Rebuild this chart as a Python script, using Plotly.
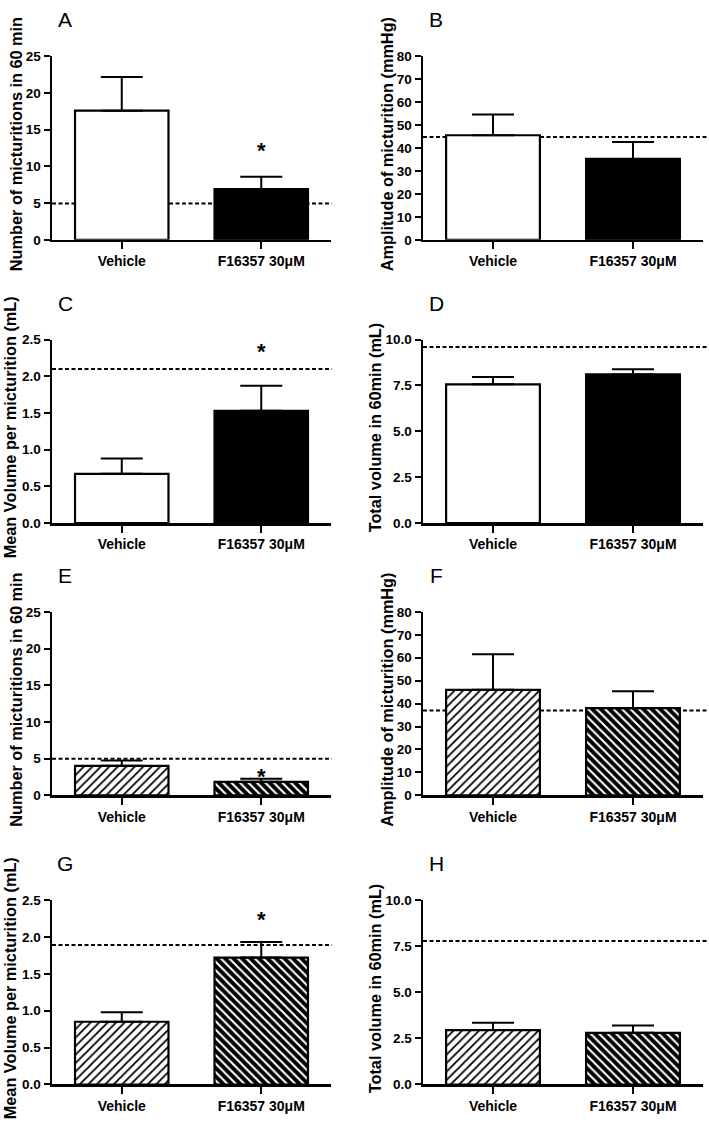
import plotly.graph_objects as go

# ---------------- data ----------------
panel_letters = ["A", "B", "C", "D", "E", "F", "G", "H"]
categories = ["Vehicle", "F16357 30μM"]
y_titles = [
    "Number of micturitions in 60 min",
    "Amplitude of micturition (mmHg)",
    "Mean Volume per micturition (mL)",
    "Total volume in 60min (mL)",
    "Number of micturitions in 60 min",
    "Amplitude of micturition (mmHg)",
    "Mean Volume per micturition (mL)",
    "Total volume in 60min (mL)",
]
vehicle_mean = [17.6, 45.6, 0.67, 7.56, 4.03, 46.0, 0.85, 2.95]
vehicle_sem = [4.6, 9.0, 0.21, 0.40, 0.72, 15.5, 0.13, 0.40]
f16357_mean = [6.9, 35.3, 1.53, 8.10, 1.85, 38.0, 1.72, 2.80]
f16357_sem = [1.7, 7.4, 0.34, 0.28, 0.40, 7.4, 0.21, 0.40]
baseline = [4.95, 44.8, 2.10, 9.59, 5.0, 37.0, 1.89, 7.78]
significant = [True, False, True, False, True, False, True, False]
y_max = [25, 80, 2.5, 10, 25, 80, 2.5, 10]
y_dtick = [5, 10, 0.5, 2.5, 5, 10, 0.5, 2.5]
y_format = ["d", "d", ".1f", ".1f", "d", "d", ".1f", ".1f"]

# ---------------- layout geometry (pixels) ----------------
W, H = 709, 1128
col_x = [(52, 331), (423, 703)]
row_y = [(50, 236), (337, 523), (613, 799), (905, 1092)]
title_x = [16, 387, 10, 375, 16, 387, 10, 375]
star_shift = [12, 20, -12, 8]
dash_end = [1.003, 1.015]

FONT = "Liberation Sans, Arial, sans-serif"

fig = go.Figure()
layout = dict(
    width=W, height=H,
    margin=dict(l=0, r=0, t=0, b=0),
    paper_bgcolor="white", plot_bgcolor="white",
    showlegend=False, barmode="overlay",
    annotations=[], shapes=[],
)

for i in range(8):
    r, c = divmod(i, 2)
    x0, x1 = col_x[c]
    yt, yb = row_y[r]
    ax = "" if i == 0 else str(i + 1)
    xa, ya = "x" + ax, "y" + ax
    hatched = r >= 2

    groups = [
        (0, vehicle_mean[i], vehicle_sem[i], "white", "/", "white", "black", 0.3),
        (1, f16357_mean[i], f16357_sem[i], "black", "\\", "black", "white", 0.35),
    ]
    for xv, m, s, col, shp, bg, fg, sol in groups:
        marker = dict(color=col, line=dict(color="black", width=2.2))
        if hatched:
            marker["pattern"] = dict(shape=shp, bgcolor=bg, fgcolor=fg,
                                     size=6, solidity=sol, fillmode="replace")
        fig.add_trace(go.Bar(
            x=[xv], y=[m], width=0.67, marker=marker,
            error_y=dict(type="data", symmetric=False, array=[s],
                         arrayminus=[0], color="black", thickness=2, width=21),
            xaxis=xa, yaxis=ya, hoverinfo="skip",
        ))

    layout["xaxis" + ax] = dict(
        domain=[x0 / W, x1 / W], anchor=ya, range=[-0.5, 1.5],
        tickvals=[0, 1], ticktext=categories,
        showline=True, linecolor="black", linewidth=2.5,
        ticks="outside", ticklen=7, tickwidth=2, tickcolor="black",
        tickfont=dict(family=FONT, size=14, color="black", weight="bold"),
        showgrid=False, zeroline=False, fixedrange=True,
    )
    layout["yaxis" + ax] = dict(
        domain=[1 - yb / H, 1 - yt / H], anchor=xa, range=[0, y_max[i]],
        dtick=y_dtick[i], tick0=0, tickformat=y_format[i],
        showline=True, linecolor="black", linewidth=2.5,
        ticks="outside", ticklen=6, tickwidth=2, tickcolor="black",
        tickfont=dict(family=FONT, size=13.5, color="black", weight="bold"),
        showgrid=False, zeroline=False, fixedrange=True,
    )

    # dashed baseline (behind bars)
    layout["shapes"].append(dict(
        type="line", xref=xa + " domain", yref=ya, x0=0, x1=dash_end[c],
        y0=baseline[i], y1=baseline[i], layer="below",
        line=dict(color="black", width=2, dash="4px,2.5px"),
    ))

    # panel letter
    layout["annotations"].append(dict(
        text=panel_letters[i], xref="paper", yref="paper",
        x=(x0 + 13) / W, y=1 - (yt - 37) / H, xanchor="center", yanchor="middle",
        showarrow=False, font=dict(family=FONT, size=21, color="black"),
    ))
    # y title
    layout["annotations"].append(dict(
        text=y_titles[i], xref="paper", yref="paper", textangle=-90,
        x=title_x[i] / W, y=1 - ((yt + yb) / 2 - 4) / H,
        xanchor="center", yanchor="middle", showarrow=False,
        font=dict(family=FONT, size=16.3, color="black", weight="bold"),
    ))
    # significance star
    if significant[i]:
        layout["annotations"].append(dict(
            text="*", xref=xa, yref=ya, x=1,
            y=f16357_mean[i] + f16357_sem[i], yanchor="bottom",
            yshift=star_shift[r], showarrow=False,
            font=dict(family=FONT, size=22, color="black", weight="bold"),
        ))

fig.update_layout(**layout)
fig.write_html(
    "out.html",
    config={"displayModeBar": False, "staticPlot": True},
    post_script=(
        "document.documentElement.style.margin='0px';"
        "document.body.style.margin='0px';"
        "document.documentElement.style.overflow='hidden';"
        "document.body.style.overflow='hidden';"
    ),
)
